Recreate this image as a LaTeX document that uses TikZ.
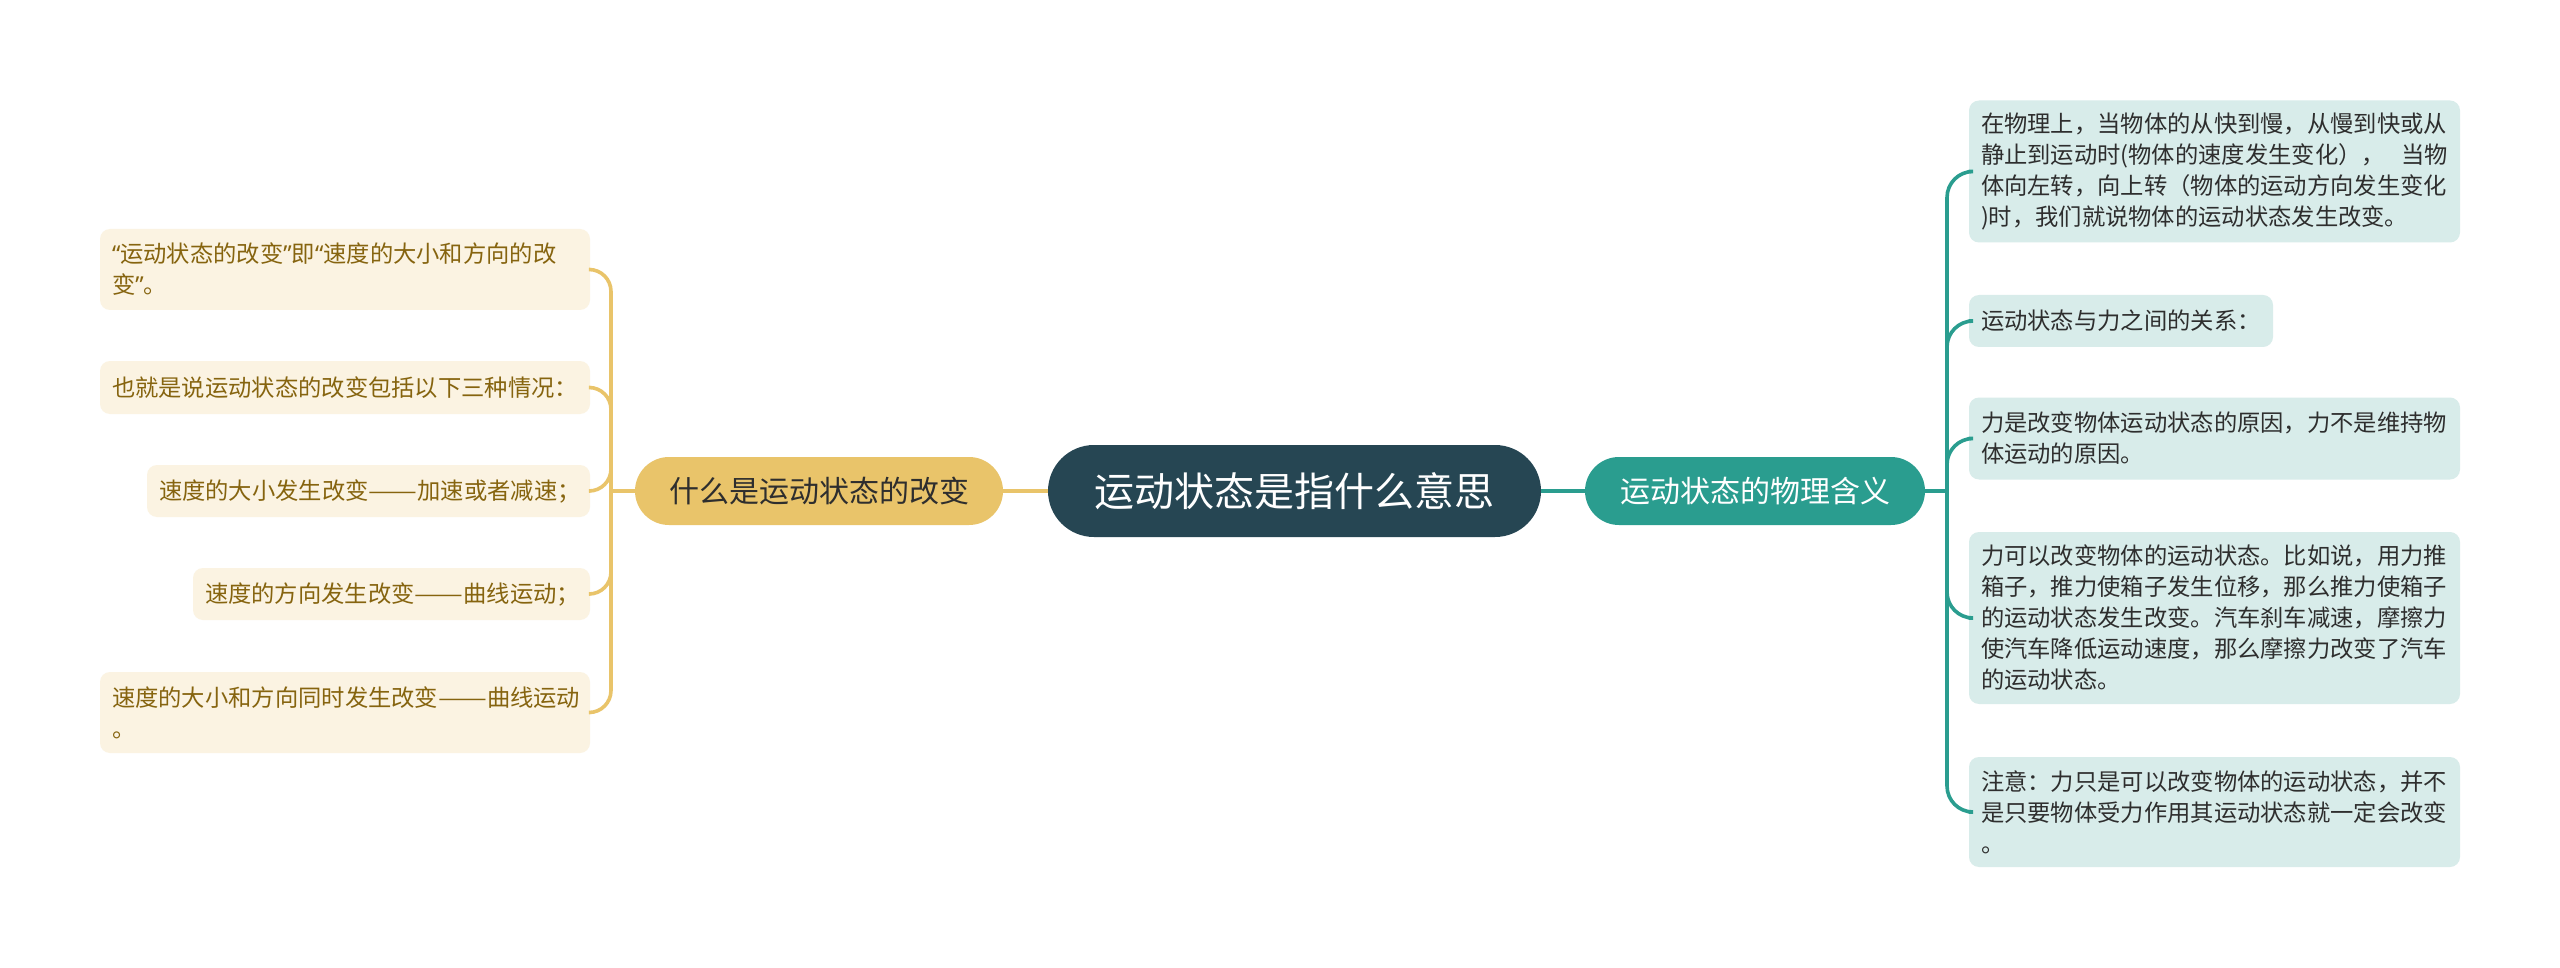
\documentclass[tikz,border=0pt]{standalone}
\usepackage{fontspec}
\usepackage{graphicx}
\setmainfont{Noto Sans CJK SC}
\newfontfamily\qfont{Noto Sans}
\newcommand{\myLq}{{\qfont “}}
\newcommand{\myRq}{{\qfont ”}}
\newcommand{\myDash}{\scalebox{1.25}[1]{——}}
\definecolor{cdark}{HTML}{264653}
\definecolor{cgold}{HTML}{E9C46A}
\definecolor{cteal}{HTML}{2A9D8F}
\definecolor{ccream}{HTML}{FBF3E2}
\definecolor{ctealbg}{HTML}{D8ECEA}
\definecolor{cbrowntxt}{HTML}{86640F}
\definecolor{cdarktxt}{HTML}{2E2E2E}
\tikzset{
  rootbox/.style={fill=cdark, text=white, rounded corners=23pt, minimum width=246.5pt, minimum height=46pt, inner sep=0pt, font=\fontsize{20pt}{24pt}\selectfont},
  mainL/.style={fill=cgold, text=cdarktxt, rounded corners=17pt, minimum width=184pt, minimum height=34pt, inner sep=0pt, font=\fontsize{15pt}{18pt}\selectfont},
  mainR/.style={fill=cteal, text=white, rounded corners=17pt, minimum width=170pt, minimum height=34pt, inner sep=0pt, font=\fontsize{15pt}{18pt}\selectfont},
  leafL/.style={fill=ccream, text=cbrowntxt, rounded corners=5pt, align=left, inner xsep=6pt, inner ysep=0pt, font=\fontsize{11.65pt}{15.5pt}\selectfont},
  leafR/.style={fill=ctealbg, text=cdarktxt, rounded corners=5pt, align=left, inner xsep=6pt, inner ysep=0pt, font=\fontsize{11.65pt}{15.5pt}\selectfont},
  lineL/.style={draw=cgold, line width=1.8pt},
  lineR/.style={draw=cteal, line width=1.8pt},
}
\begin{document}
\begin{tikzpicture}[x=0.5pt, y=-0.5pt]
\useasboundingbox (0,0) rectangle (2560,968);
\fill[white] (0,0) rectangle (2560,968);

% connectors coordinates
\coordinate (jl) at (611,491);
\coordinate (jr) at (1947,491);

% central and main nodes
\node[rootbox] (root) at (1294.5,491) {运动状态是指什么意思};
\node[mainL] (ml) at (819,491) {什么是运动状态的改变};
\node[mainR] (mr) at (1755,491) {运动状态的物理含义};

% left leaves
\node[leafL, text width=233pt, minimum height=40.5pt] (l1) at (345,269.5) {\myLq 运动状态的改变\myRq 即\myLq 速度的大小和方向的改\\变\myRq 。};
\node[leafL, text width=233pt, minimum height=26.5pt] (l2) at (345,387.5) {也就是说运动状态的改变包括以下三种情况：};
\node[leafL, text width=209.5pt, minimum height=26pt] (l3) at (368.5,491) {速度的大小发生改变\myDash 加速或者减速；};
\node[leafL, text width=186.5pt, minimum height=26pt] (l4) at (391.5,594) {速度的方向发生改变\myDash 曲线运动；};
\node[leafL, text width=233pt, minimum height=40.5pt] (l5) at (345,712.5) {速度的大小和方向同时发生改变\myDash 曲线运动\\。};

% right leaves
\node[leafR, text width=233.5pt, minimum height=71pt] (r1) at (2214.5,171.5) {在物理上，当物体的从快到慢，从慢到快或从\\静止到运动时(物体的速度发生变化），\hfill 当物\\体向左转，向上转（物体的运动方向发生变化\\)时，我们就说物体的运动状态发生改变。};
\node[leafR, text width=140pt, minimum height=26pt] (r2) at (2121,321) {运动状态与力之间的关系：};
\node[leafR, text width=233.5pt, minimum height=41pt] (r3) at (2214.5,438.5) {力是改变物体运动状态的原因，力不是维持物\\体运动的原因。};
\node[leafR, text width=233.5pt, minimum height=86pt] (r4) at (2214.5,618) {力可以改变物体的运动状态。比如说，用力推\\箱子，推力使箱子发生位移，那么推力使箱子\\的运动状态发生改变。汽车刹车减速，摩擦力\\使汽车降低运动速度，那么摩擦力改变了汽车\\的运动状态。};
\node[leafR, text width=233.5pt, minimum height=55pt] (r5) at (2214.5,812) {注意：力只是可以改变物体的运动状态，并不\\是只要物体受力作用其运动状态就一定会改变\\。};

% connectors
\draw[lineL] (root.west) -- (ml.east);
\draw[lineR] (root.east) -- (mr.west);
\draw[lineL] (ml.west) -- (jl);
\draw[lineR] (mr.east) -- (jr);
\foreach \n in {l1,l2,l3,l4,l5}{
  \draw[lineL, rounded corners=11pt] (jl) |- (\n.east);
}
\foreach \n in {r1,r2,r3,r4,r5}{
  \draw[lineR, rounded corners=13pt] (jr) |- (\n.west);
}
\end{tikzpicture}
\end{document}
